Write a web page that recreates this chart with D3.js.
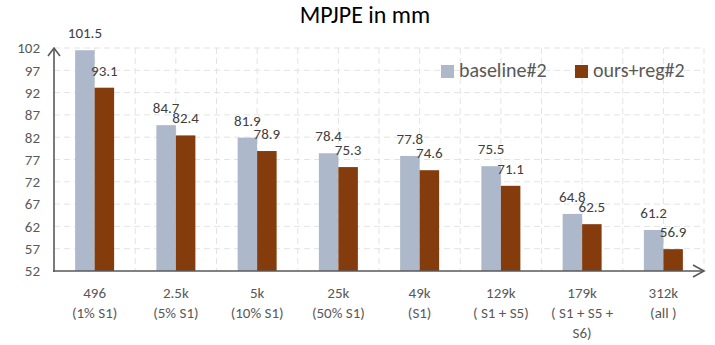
<!DOCTYPE html>
<html><head><meta charset="utf-8">
<script src="https://cdn.jsdelivr.net/npm/d3@7"></script>
<style>body{margin:0;background:#fff}svg{display:block}</style>
</head><body><svg id="c" width="715" height="345"></svg>
<script>
const categories = ["496","2.5k","5k","25k","49k","129k","179k","312k"];
const subLabels = [["(1% S1)"],["(5% S1)"],["(10% S1)"],["(50% S1)"],["(S1)"],["( S1 + S5)"],["( S1 + S5 +","S6)"],["(all )"]];
const seriesNames = ["baseline#2","ours+reg#2"];
const baseline = [101.5,84.7,81.9,78.4,77.8,75.5,64.8,61.2];
const ours = [93.1,82.4,78.9,75.3,74.6,71.1,62.5,56.9];
const yTicks = [52,57,62,67,72,77,82,87,92,97,102];
const colors = ["#adb9ca","#843c0c"];

const svg = d3.select("#c");
const font = "Calibri, Carlito, Lato, 'Open Sans', sans-serif";
const L=54, R=704, T=48, B=271;
const x0 = d3.scaleBand().domain(categories).range([L,R]).paddingInner(0.52).paddingOuter(0.26);
const x1 = d3.scaleBand().domain(seriesNames).range([0,x0.bandwidth()]);
const y = d3.scaleLinear().domain([52,102]).range([B,T]);

// grid
const g = svg.append("g");
yTicks.slice(1).forEach(t=>{
  g.append("line").attr("x1",L).attr("x2",R).attr("y1",y(t)).attr("y2",y(t))
   .attr("stroke","#e3e3e3").attr("stroke-width",1).attr("stroke-dasharray","6,4");
});
const step = x0.step()/2;
for(let k=1;k<=16;k++){
  const xv = L + k*step;
  g.append("line").attr("x1",xv).attr("x2",xv).attr("y1",T).attr("y2",B)
   .attr("stroke","#e3e3e3").attr("stroke-width",1).attr("stroke-dasharray","6,4");
}

// bars
const data = categories.map((c,i)=>({c, vals:[baseline[i],ours[i]]}));
const grp = svg.append("g").selectAll("g").data(data).join("g")
  .attr("transform",d=>`translate(${x0(d.c)},0)`);
grp.selectAll("rect").data(d=>d.vals.map((v,j)=>({v,s:seriesNames[j],j}))).join("rect")
  .attr("x",d=>x1(d.s)).attr("width",x1.bandwidth()).attr("y",d=>y(d.v)).attr("height",d=>B-y(d.v))
  .attr("fill",d=>colors[d.j]);
grp.selectAll("text").data(d=>d.vals.map((v,j)=>({v,s:seriesNames[j],j}))).join("text")
  .attr("x",d=>x1(d.s)+x1.bandwidth()/2).attr("y",d=>y(d.v)-12)
  .attr("text-anchor","middle").attr("font-family",font).attr("font-size",15).attr("fill","#404040")
  .text(d=>d.v.toFixed(1));

// y axis
const ya = svg.append("g").attr("transform",`translate(${L},0)`)
  .call(d3.axisLeft(y).tickValues(yTicks).tickSize(0).tickPadding(14));
ya.select(".domain").remove();
ya.selectAll("text").attr("font-family",font).attr("font-size",15).attr("fill","#595959");

// axes lines with arrows
const ax = svg.append("g").attr("stroke","#595959").attr("stroke-width",1.6).attr("fill","none");
ax.append("line").attr("x1",L).attr("x2",L).attr("y1",B+1).attr("y2",T);
ax.append("path").attr("d",`M${L-6},${T+8}L${L},${T}L${L+6},${T+8}`);
ax.append("line").attr("x1",L-1).attr("x2",R).attr("y1",B).attr("y2",B);
ax.append("path").attr("d",`M${R-11},${B-6}L${R},${B}L${R-11},${B+6}`);

// x labels
const xl = svg.append("g").selectAll("text").data(categories).join("text")
  .attr("x",d=>x0(d)+x0.bandwidth()/2).attr("y",298)
  .attr("text-anchor","middle").attr("font-family",font).attr("font-size",15).attr("fill","#595959");
xl.each(function(d,i){
  const t = d3.select(this);
  t.append("tspan").attr("x",x0(d)+x0.bandwidth()/2).attr("dy",0).text(d);
  subLabels[i].forEach(s=>t.append("tspan").attr("x",x0(d)+x0.bandwidth()/2).attr("dy",20).text(s));
});

// title
svg.append("text").attr("x",365).attr("y",23).attr("text-anchor","middle")
  .attr("font-family",font).attr("font-size",24).attr("fill","#000").text("MPJPE in mm");

// legend
const lg = svg.append("g");
const lx = [441,575];
seriesNames.forEach((s,i)=>{
  lg.append("rect").attr("x",lx[i]).attr("y",65).attr("width",13).attr("height",13).attr("fill",colors[i]);
  lg.append("text").attr("x",lx[i]+18).attr("y",77).attr("font-family",font).attr("font-size",20)
    .attr("fill","#595959").text(s);
});
</script></body></html>
